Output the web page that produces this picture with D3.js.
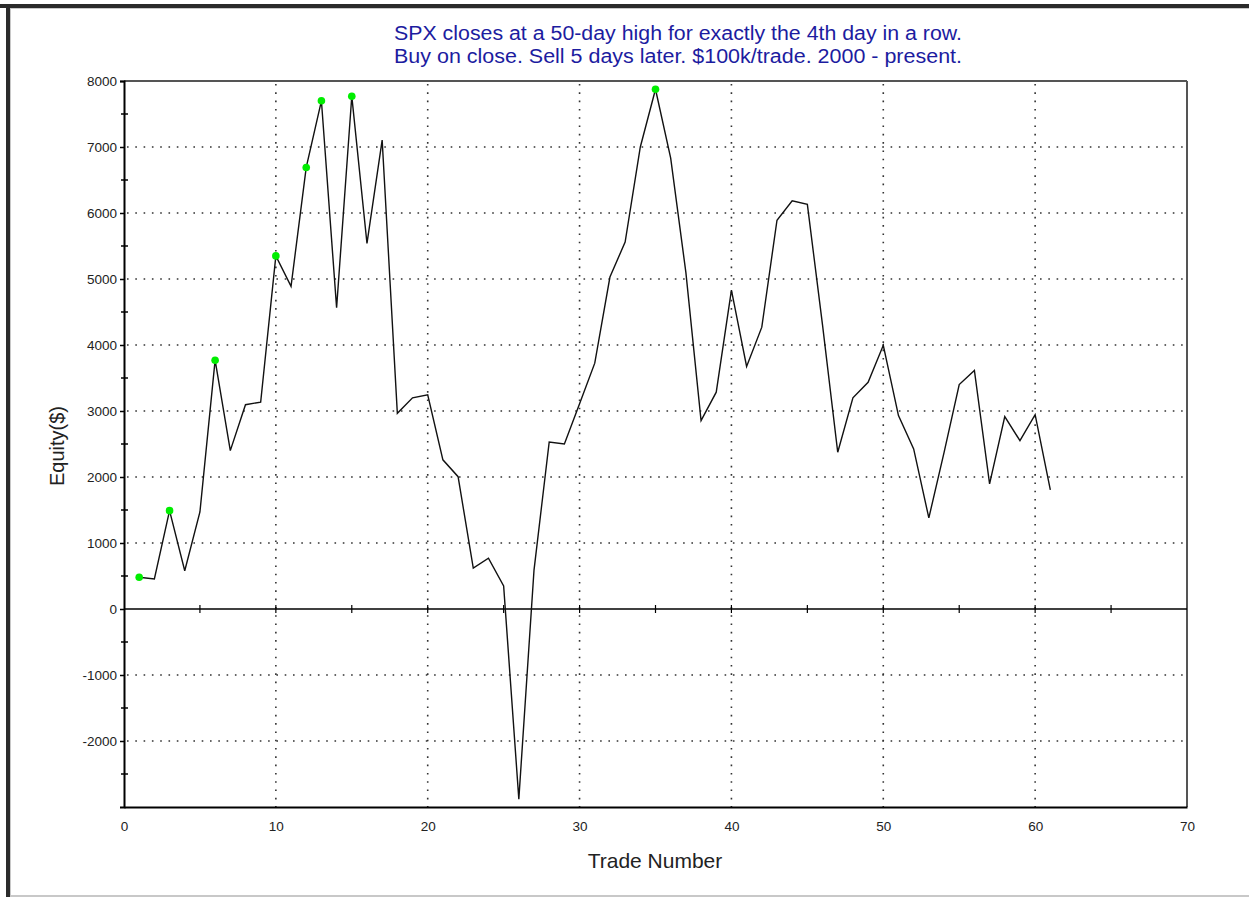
<!DOCTYPE html>
<html>
<head>
<meta charset="utf-8">
<script src="https://cdn.jsdelivr.net/npm/d3@7"></script>
<style>
  body { margin: 0; background: #fff; }
  svg { display: block; }
</style>
</head>
<body>
<script>
// equity after each trade
var trades = d3.range(1, 62);
var equity = [
  480, 455, 1490, 580, 1470, 3770, 2400, 3095, 3135, 5350,
  4890, 6690, 7700, 4565, 7770, 5540, 7105, 2965, 3200, 3245,
  2260, 2005, 620, 770, 350, -2880, 590, 2530, 2500, 3110,
  3725, 5030, 5560, 7000, 7875, 6830, 5100, 2855, 3285, 4830,
  3675, 4270, 5890, 6185, 6130, 4300, 2375, 3200, 3435, 3995,
  2930, 2425, 1380, 2370, 3400, 3615, 1895, 2915, 2550, 2945,
  1805
];
var xTicks = [0, 10, 20, 30, 40, 50, 60, 70];
var yTicks = [-2000, -1000, 0, 1000, 2000, 3000, 4000, 5000, 6000, 7000, 8000];
var titleLines = [
  "SPX closes at a 50-day high for exactly the 4th day in a row.",
  "Buy on close. Sell 5 days later. $100k/trade. 2000 - present."
];

var w = 1249;
var h = 897;
var plotLeft = 124, plotRight = 1187, plotTop = 81, plotBottom = 807;
var font = "Liberation Sans, Arial, sans-serif";

var data = trades.map(function(t, i) { return { t: t, v: equity[i] }; });

// trades that set a new equity high get a green dot
var best = -Infinity;
var highs = data.filter(function(d) {
  if (d.v > best) { best = d.v; return true; }
  return false;
});

var xScale = d3.scaleLinear().domain([0, 70]).range([plotLeft, plotRight]);
var yScale = d3.scaleLinear().domain([-3000, 8000]).range([plotBottom, plotTop]);

var svg = d3.select("body").append("svg")
  .attr("width", w)
  .attr("height", h);

// window frame
svg.append("rect").attr("x", 0).attr("y", 4).attr("width", w).attr("height", 4).attr("fill", "#2b2b2b");
svg.append("rect").attr("x", 6).attr("y", 4).attr("width", 4).attr("height", h).attr("fill", "#2b2b2b");
svg.append("rect").attr("x", 10).attr("y", 8).attr("width", w).attr("height", 1).attr("fill", "#c8c8c8");
svg.append("rect").attr("x", 10).attr("y", 8).attr("width", 1).attr("height", h).attr("fill", "#c8c8c8");
svg.append("rect").attr("x", 10).attr("y", 895).attr("width", w).attr("height", 2).attr("fill", "#c8c8c8");

// title
svg.append("g").selectAll("text")
  .data(titleLines)
  .enter()
  .append("text")
  .attr("x", 678)
  .attr("y", function(d, i) { return 40 + i * 23; })
  .attr("text-anchor", "middle")
  .attr("font-family", font)
  .attr("font-size", "19.5px")
  .attr("textLength", 568)
  .attr("lengthAdjust", "spacingAndGlyphs")
  .attr("fill", "#1c1ca0")
  .text(function(d) { return d; });

// dotted grid
svg.append("g").selectAll("line")
  .data(yTicks.filter(function(d) { return d !== 0 && d !== 8000; }))
  .enter()
  .append("line")
  .attr("x1", plotLeft + 3).attr("x2", plotRight)
  .attr("y1", function(d) { return yScale(d); })
  .attr("y2", function(d) { return yScale(d); })
  .attr("stroke", "#333")
  .attr("stroke-width", 1.6)
  .attr("stroke-dasharray", "1.6 6.7");

svg.append("g").selectAll("line")
  .data(xTicks.filter(function(d) { return d !== 0 && d !== 70; }))
  .enter()
  .append("line")
  .attr("x1", function(d) { return xScale(d); })
  .attr("x2", function(d) { return xScale(d); })
  .attr("y1", plotTop + 3).attr("y2", plotBottom)
  .attr("stroke", "#333")
  .attr("stroke-width", 1.6)
  .attr("stroke-dasharray", "1.6 6.7");

// plot frame
svg.append("line").attr("x1", plotLeft).attr("x2", plotRight).attr("y1", plotTop).attr("y2", plotTop)
  .attr("stroke", "#555").attr("stroke-width", 2);
svg.append("line").attr("x1", plotRight).attr("x2", plotRight).attr("y1", plotTop).attr("y2", plotBottom)
  .attr("stroke", "#555").attr("stroke-width", 2);

// zero line with ticks every 5 trades
svg.append("line").attr("x1", plotLeft).attr("x2", plotRight)
  .attr("y1", yScale(0)).attr("y2", yScale(0))
  .attr("stroke", "#000").attr("stroke-width", 1.5);
svg.append("g").selectAll("line")
  .data(d3.range(5, 70, 5))
  .enter()
  .append("line")
  .attr("x1", function(d) { return xScale(d); })
  .attr("x2", function(d) { return xScale(d); })
  .attr("y1", yScale(0) - 4).attr("y2", yScale(0) + 4)
  .attr("stroke", "#000").attr("stroke-width", 1.2);

// axes
var plain = function(d) { return String(d); };

var yAxis = d3.axisLeft(yScale)
  .tickValues(yTicks)
  .tickFormat(plain)
  .tickSize(4)
  .tickPadding(3);
var gy = svg.append("g")
  .attr("transform", "translate(" + plotLeft + ",0)")
  .call(yAxis);
gy.select(".domain").attr("stroke", "#000").attr("stroke-width", 2);

svg.append("g").selectAll("line")
  .data(d3.range(-2500, 8000, 1000))
  .enter()
  .append("line")
  .attr("x1", plotLeft - 3).attr("x2", plotLeft + 4)
  .attr("y1", function(d) { return yScale(d); })
  .attr("y2", function(d) { return yScale(d); })
  .attr("stroke", "#000").attr("stroke-width", 1.5);

var xAxis = d3.axisBottom(xScale)
  .tickValues(xTicks)
  .tickFormat(plain)
  .tickSize(0)
  .tickPadding(14);
var gx = svg.append("g")
  .attr("transform", "translate(0," + plotBottom + ")")
  .call(xAxis);
gx.select(".domain").attr("stroke", "#000").attr("stroke-width", 2);

[gx, gy].forEach(function(g) {
  g.selectAll("text")
    .style("font-family", font)
    .style("font-size", "13.5px")
    .attr("fill", "#222");
  g.selectAll(".tick line").attr("stroke", "#000").attr("stroke-width", 1.5);
});

// equity line
var line = d3.line()
  .x(function(d) { return xScale(d.t); })
  .y(function(d) { return yScale(d.v); });

svg.append("path")
  .datum(data)
  .attr("d", line)
  .attr("fill", "none")
  .attr("stroke", "#111")
  .attr("stroke-width", 1.4);

svg.selectAll("circle")
  .data(highs)
  .enter()
  .append("circle")
  .attr("cx", function(d) { return xScale(d.t); })
  .attr("cy", function(d) { return yScale(d.v); })
  .attr("r", 3.8)
  .attr("fill", "#00ee00");

// axis labels
svg.append("text")
  .attr("text-anchor", "middle")
  .attr("x", 655)
  .attr("y", 868)
  .attr("font-family", font)
  .attr("font-size", "21px")
  .attr("fill", "#222")
  .text("Trade Number");

svg.append("text")
  .attr("text-anchor", "middle")
  .attr("transform", "rotate(-90)")
  .attr("x", -446)
  .attr("y", 64)
  .attr("font-family", font)
  .attr("font-size", "20px")
  .attr("fill", "#222")
  .text("Equity($)");
</script>
</body>
</html>
